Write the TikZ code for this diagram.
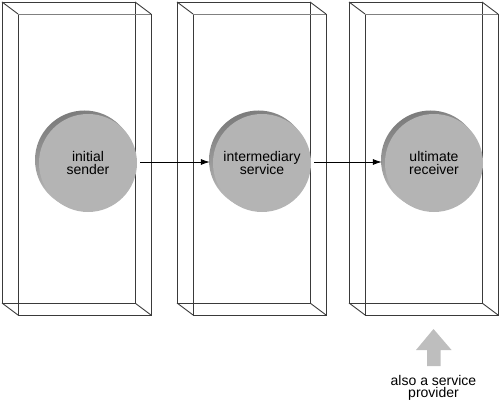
\documentclass[tikz,border=0pt]{standalone}
\usepackage{fontspec}
\setmainfont{Liberation Sans}
\usetikzlibrary{arrows.meta}
\definecolor{face}{HTML}{B4B4B4}
\definecolor{rimdark}{HTML}{7C7C7C}
\definecolor{rimlight}{HTML}{D0D0D0}
\definecolor{edge}{HTML}{3A3A3A}
\definecolor{blockgray}{HTML}{BEBEBE}
\tikzset{
  boxline/.style={draw=edge, line width=0.9pt},
  toplight/.style={draw=black!50, line width=0.9pt},
  ball/.style={circle, fill=face, minimum size=98pt, inner sep=0pt, align=center,
    font=\fontsize{14}{13.5}\selectfont},
  rim/.style={top color=rimdark, bottom color=rimlight, shading angle=20},
  link/.style={-{Latex[length=9pt,width=6pt]}, line width=0.8pt, black},
  note/.style={align=center, font=\fontsize{14}{12.5}\selectfont}
}
\begin{document}
\begin{tikzpicture}[x=1pt,y=-1pt]
\useasboundingbox (0,0) rectangle (500,406);
% wireframe boxes
\foreach \x in {2,177,349}{
  \draw[boxline] (\x,2) rectangle (\x+133,303);
  \draw[boxline] (\x+16,315) -- (\x+16,14);
  \draw[toplight] (\x+16,14) -- (\x+149,14);
  \draw[boxline] (\x+149,14) -- (\x+149,315) -- (\x+16,315);
  \draw[boxline] (\x,2) -- (\x+16,14);
  \draw[boxline] (\x+133,2) -- (\x+149,14);
  \draw[boxline] (\x,303) -- (\x+16,315);
  \draw[boxline] (\x+133,303) -- (\x+149,315);
}
% rims of the discs
\foreach \cx in {87,261,433}{
  \shade[rim] (\cx-2.5,160) circle (49.5pt);
}
\node[ball] (c1) at (88,163) {initial\\sender};
\node[ball] (c2) at (262,163) {intermediary\\service};
\node[ball] (c3) at (434,163) {ultimate\\receiver};
\draw[link, shorten <=3pt, shorten >=3pt] (c1.east |- 0,162) -- (c2.west |- 0,162);
\draw[link, shorten <=3pt, shorten >=3pt] (c2.east |- 0,162) -- (c3.west |- 0,162);
% block arrow
\fill[blockgray] (433.5,329) -- (451.5,350) -- (440.5,350) -- (440.5,366)
  -- (427,366) -- (427,350) -- (416,350) -- cycle;
\node[note] (n) at (433.5,388) {also a service\\provider};
\end{tikzpicture}
\end{document}
